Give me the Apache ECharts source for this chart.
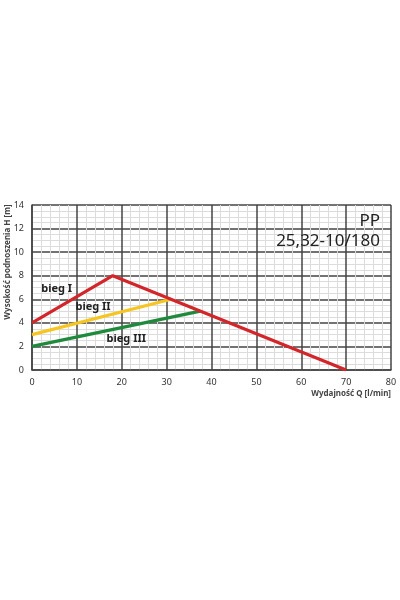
<!DOCTYPE html>
<html>
<head>
<meta charset="utf-8">
<script src="https://cdn.jsdelivr.net/npm/echarts@6/dist/echarts.min.js"></script>
<style>
  html, body { margin: 0; padding: 0; background: #fff; }
  #chart { width: 400px; height: 600px; }
</style>
</head>
<body>
<div id="chart"></div>
<script>
// bieg I, II, III - pump curves [Q, H]
const bieg1 = [[0, 4], [18, 8], [70, 0]];
const bieg2 = [[0, 3], [31, 6]];
const bieg3 = [[0, 2], [37.5, 5]];
const seriesNames = ["bieg I", "bieg II", "bieg III"];
const seriesColors = ["#d3262b", "#f6c522", "#1f8a3c"];
// label anchor points for curve names
const labelPoints = [[5.5, 6.9], [13.6, 5.35], [21, 2.6]];
const titleLines = ["PP", "25,32-10/180"];

const font = "Noto Sans";
const chart = echarts.init(document.getElementById("chart"));

const series = [bieg1, bieg2, bieg3].map((data, i) => ({
  name: seriesNames[i],
  type: "line",
  data: data,
  symbol: "none",
  lineStyle: { color: seriesColors[i], width: 3.2 },
  z: 10 - i,
  markPoint: {
    symbol: "rect",
    symbolSize: 0,
    data: [{ coord: labelPoints[i], value: seriesNames[i] }],
    label: {
      show: true,
      position: "inside",
      formatter: seriesNames[i],
      color: "#222",
      fontSize: 11,
      fontWeight: "bold",
      fontFamily: font,
    },
  },
}));

// title lines, right aligned inside plot
const titles = titleLines.map((t, i) => ({
  text: t,
  right: 20,
  top: 213 + i * 20,
  padding: 0,
  textStyle: {
    fontSize: 17,
    fontWeight: "normal",
    color: "#222",
    fontFamily: font,
  },
}));

chart.setOption({
  animation: false,
  grid: { left: 32, right: 9, top: 205, bottom: 230 },
  title: titles,
  graphic: [
    {
      type: "text",
      x: 8,
      y: 262,
      rotation: Math.PI / 2,
      style: {
        text: "Wysokość podnoszenia H [m]",
        align: "center",
        verticalAlign: "middle",
        fontSize: 8,
        fontWeight: "bold",
        fill: "#444",
        fontFamily: font,
      },
    },
  ],
  xAxis: {
    type: "value",
    min: 0,
    max: 80,
    interval: 10,
    name: "Wydajność Q [l/min]",
    nameLocation: "end",
    nameGap: 0,
    nameTextStyle: {
      align: "right",
      verticalAlign: "top",
      padding: [20, 0, 0, 0],
      fontSize: 8,
      fontWeight: "bold",
      color: "#444",
      fontFamily: font,
    },
    axisLine: { lineStyle: { color: "#444", width: 1.5 } },
    axisTick: { show: false },
    axisLabel: { fontSize: 9, color: "#333", margin: 8, fontFamily: font },
    splitLine: { lineStyle: { color: "#444", width: 1.5 } },
    minorTick: { show: false, splitNumber: 5 },
    minorSplitLine: { show: true, lineStyle: { color: "#dcdcdc", width: 1 } },
  },
  yAxis: {
    type: "value",
    min: 0,
    max: 14,
    interval: 2,
    axisLine: { show: true, lineStyle: { color: "#444", width: 1.5 } },
    axisTick: { show: false },
    axisLabel: { fontSize: 9, color: "#333", margin: 8, fontFamily: font },
    splitLine: { lineStyle: { color: "#444", width: 1.5 } },
    minorTick: { show: false, splitNumber: 4 },
    minorSplitLine: { show: true, lineStyle: { color: "#dcdcdc", width: 1 } },
  },
  series: series,
});
</script>
</body>
</html>
